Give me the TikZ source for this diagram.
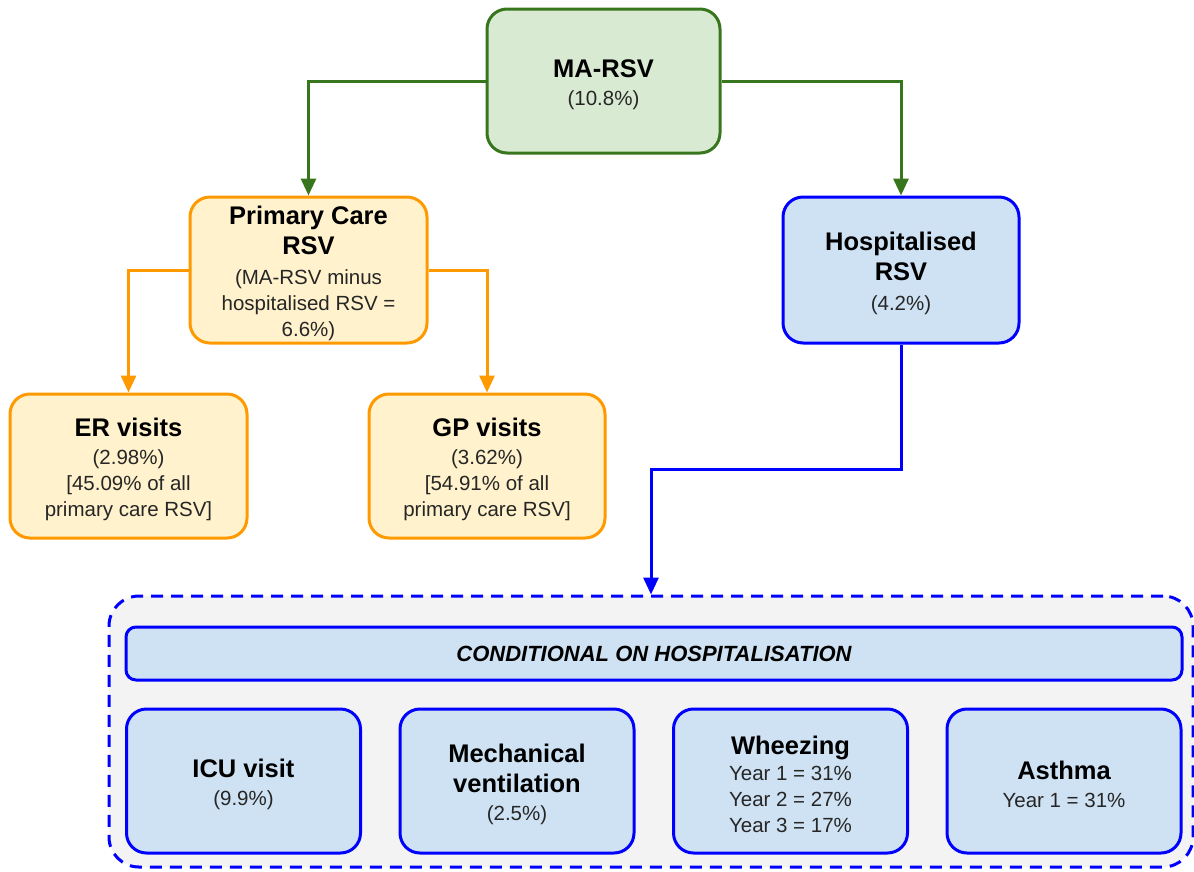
\documentclass[tikz,border=0pt]{standalone}
\usepackage{fontspec}
\setmainfont{Liberation Sans}
\usetikzlibrary{arrows.meta}
\definecolor{gline}{HTML}{38761D}
\definecolor{gfill}{HTML}{D9EAD3}
\definecolor{oline}{HTML}{FF9900}
\definecolor{ofill}{HTML}{FFF2CC}
\definecolor{bline}{HTML}{0000FF}
\definecolor{bfill}{HTML}{CFE2F3}
\definecolor{cfill}{HTML}{F3F3F3}
\definecolor{subtxt}{HTML}{262626}
\newcommand{\tfont}{\fontsize{25.5}{30}\bfseries\selectfont\color{black}}
\newcommand{\tstrut}{\rule{0pt}{25pt}}
\begin{document}
\begin{tikzpicture}[x=1pt,y=-1pt,
  box/.style={rounded corners=20pt, line width=3pt, align=center, inner sep=0pt, text=subtxt,
    font=\fontsize{20.5}{26}\selectfont},
  gbox/.style={box, draw=gline, fill=gfill},
  obox/.style={box, draw=oline, fill=ofill},
  bbox/.style={box, draw=bline, fill=bfill},
  garr/.style={draw=gline, line width=3pt, -{Triangle[width=15pt,length=17pt]}},
  oarr/.style={draw=oline, line width=3pt, -{Triangle[width=15pt,length=17pt]}},
  barr/.style={draw=bline, line width=3pt, -{Triangle[width=15pt,length=17pt]}}]
\useasboundingbox (0,0) rectangle (1194,871);

\node[gbox, minimum width=233pt, minimum height=144pt] (ma) at (603.5,81)
  {{\tfont\tstrut MA-RSV}\\[2pt](10.8\%)};
\node[obox, minimum width=237pt, minimum height=146pt] (pc) at (308.5,270)
  {{\tfont\tstrut Primary Care}\\[4pt]{\tfont RSV}\\[4pt](MA-RSV minus\\hospitalised RSV =\\6.6\%)};
\node[bbox, minimum width=236pt, minimum height=146pt] (hosp) at (901,270)
  {{\tfont\tstrut Hospitalised}\\[4pt]{\tfont RSV}\\[4pt](4.2\%)};
\node[obox, minimum width=237pt, minimum height=144pt] (er) at (128.5,466)
  {{\tfont\tstrut ER visits}\\[2pt](2.98\%)\\{}[45.09\% of all\\primary care RSV]};
\node[obox, minimum width=236pt, minimum height=144pt] (gp) at (487,466)
  {{\tfont\tstrut GP visits}\\[2pt](3.62\%)\\{}[54.91\% of all\\primary care RSV]};

\node[draw=bline, fill=cfill, line width=3pt, dash pattern=on 12pt off 8pt, rounded corners=30pt,
  minimum width=1084pt, minimum height=271pt, inner sep=0pt] (cont) at (651,731.5) {};

\node[bbox, rounded corners=10pt, minimum width=1056pt, minimum height=53pt,
  font=\fontsize{22}{26}\bfseries\itshape\selectfont, text=black] (cond) at (654,653.5)
  {CONDITIONAL ON HOSPITALISATION};

\node[bbox, minimum width=234pt, minimum height=144pt] (icu) at (243.5,781)
  {{\tfont\tstrut ICU visit}\\[2pt](9.9\%)};
\node[bbox, minimum width=234pt, minimum height=144pt] (mech) at (517,781)
  {{\tfont\tstrut Mechanical}\\[4pt]{\tfont ventilation}\\[2pt](2.5\%)};
\node[bbox, minimum width=234pt, minimum height=144pt] (whz) at (790.5,781)
  {{\tfont\tstrut Wheezing}\\Year 1 = 31\%\\Year 2 = 27\%\\Year 3 = 17\%};
\node[bbox, minimum width=234pt, minimum height=144pt] (ast) at (1064,781)
  {{\tfont\tstrut Asthma}\\[2pt]Year 1 = 31\%};

\draw[garr] (ma.west) -| (pc.north);
\draw[garr] (ma.east) -| (hosp.north);
\draw[oarr] (pc.west) -| (er.north);
\draw[oarr] (pc.east) -| (gp.north);
\coordinate (bend) at (901,469);
\draw[barr] (hosp.south) -- (bend) -| (cont.north);
\end{tikzpicture}
\end{document}
